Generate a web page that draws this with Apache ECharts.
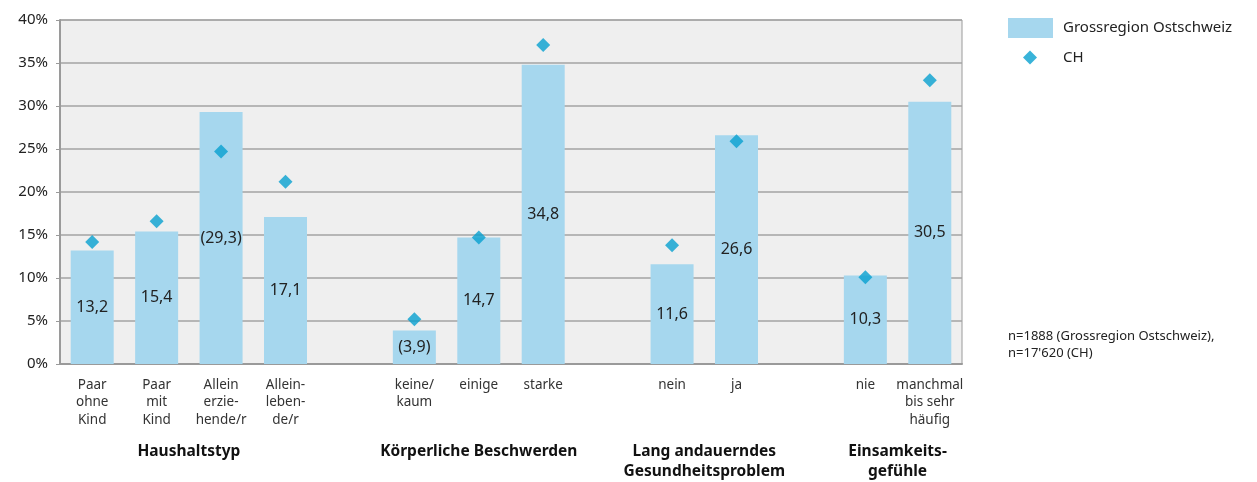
<!DOCTYPE html>
<html><head><meta charset="utf-8">
<script src="https://cdn.jsdelivr.net/npm/echarts@6/dist/echarts.min.js"></script>
<style>html,body{margin:0;padding:0;background:#fff}#c{width:1257px;height:482px}</style>
</head><body><div id="c"></div>
<script>
const categories = ['Paar\nohne\nKind','Paar\nmit\nKind','Allein\nerzie-\nhende/r','Allein-\nleben-\nde/r','',
  'keine/\nkaum','einige','starke','','nein','ja','','nie','manchmal\nbis sehr\nhäufig'];
const regionValues = [13.2,15.4,29.3,17.1,null,3.9,14.7,34.8,null,11.6,26.6,null,10.3,30.5];
const regionParen  = [false,false,true,false,false,true,false,false,false,false,false,false,false,false];
const chValues     = [14.2,16.6,24.7,21.2,null,5.2,14.7,37.1,null,13.8,25.9,null,10.1,33.0];
const groups = [
  {name:'Haushaltstyp', from:0, to:3},
  {name:'Körperliche Beschwerden', from:5, to:7},
  {name:'Lang andauerndes\nGesundheitsproblem', from:9, to:10},
  {name:'Einsamkeits-\ngefühle', from:12, to:13}
];
const yTicks = {min:0, max:40, interval:5};
const noteText = "n=1888 (Grossregion Ostschweiz),\nn=17'620 (CH)";

const FONT = '"Noto Sans", "Open Sans", sans-serif';
const chart = echarts.init(document.getElementById('c'));
const option = {
  animation:false,
  textStyle:{fontFamily:FONT},
  grid:{left:60,right:295,top:20,bottom:118,show:true,backgroundColor:'#efefef',borderColor:'#9a9a9a',borderWidth:1},
  legend:[
    {data:[{name:'Grossregion Ostschweiz',icon:'rect'}],left:1003,top:13,itemWidth:45,itemHeight:20,
     textStyle:{fontFamily:FONT,fontSize:15,color:'#222',padding:[0,0,0,5]}},
    {data:['CH'],left:1018,top:45,itemWidth:14,itemHeight:14,
     textStyle:{fontFamily:FONT,fontSize:15,color:'#222',padding:[0,0,0,21]}}
  ],
  xAxis:{type:'category',data:categories,
    axisLine:{show:true,lineStyle:{color:'#9a9a9a',width:2}},
    axisTick:{show:false},
    axisLabel:{interval:0,fontFamily:FONT,fontSize:13.5,color:'#333',lineHeight:17.5,margin:12}
  },
  yAxis:{type:'value',min:yTicks.min,max:yTicks.max,interval:yTicks.interval,
    axisLine:{show:true,lineStyle:{color:'#9a9a9a',width:2}},
    axisTick:{show:true,length:4,lineStyle:{color:'#9a9a9a',width:1}},
    splitLine:{lineStyle:{color:'#a3a3a3',width:1.5}},
    axisLabel:{formatter:v=>v+'%',fontFamily:FONT,fontSize:15,color:'#222',margin:12}
  },
  series:[
    {name:'Grossregion Ostschweiz',type:'bar',data:regionValues,barWidth:43,
     itemStyle:{color:'#a6d7ee'},
     label:{show:true,position:'inside',fontFamily:FONT,fontSize:16,color:'#222',
       formatter:p=>{const s=String(p.value.toFixed(1)).replace('.',',');return regionParen[p.dataIndex]?'('+s+')':s;}}
    },
    {name:'CH',type:'scatter',data:chValues,symbol:'diamond',symbolSize:14,
     itemStyle:{color:'#08a0d0'},z:5}
  ],
  graphic:[]
};
chart.setOption(option);
const gfx = groups.map(g=>{
  const x1 = chart.convertToPixel({xAxisIndex:0},g.from);
  const x2 = chart.convertToPixel({xAxisIndex:0},g.to);
  return {type:'text',x:(x1+x2)/2,y:442,
    style:{text:g.name,fontFamily:FONT,fontSize:15.5,fontWeight:'bold',fill:'#111',align:'center',verticalAlign:'top',lineHeight:20},
    silent:true};
});
gfx.push({type:'text',x:1008,y:328,style:{text:noteText,fontFamily:FONT,fontSize:13,fill:'#222',lineHeight:17}});
chart.setOption({graphic:gfx});
</script></body></html>
